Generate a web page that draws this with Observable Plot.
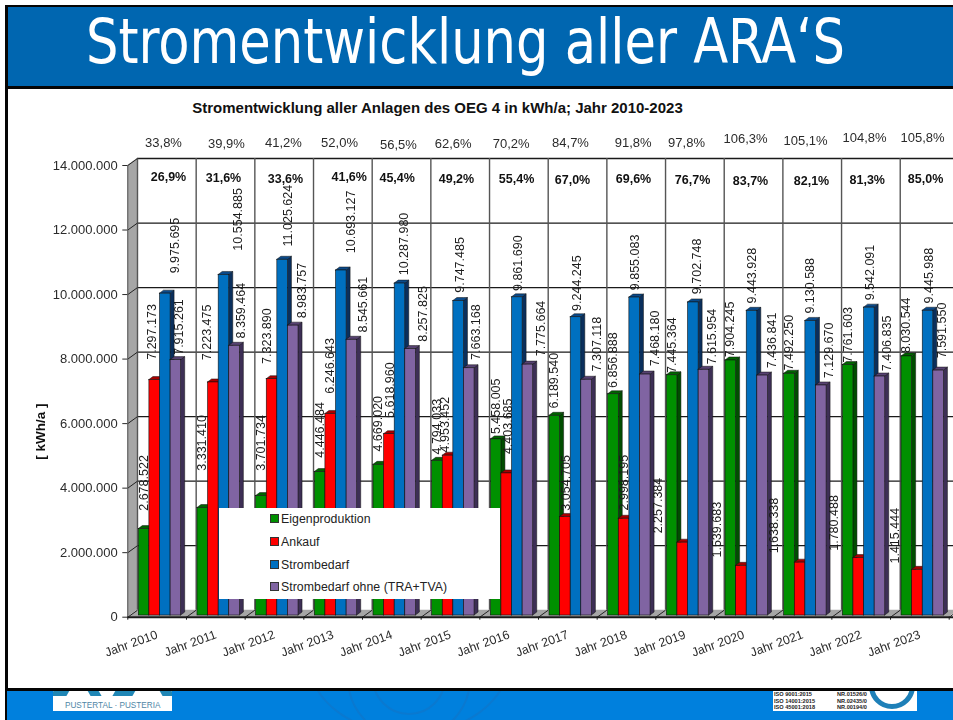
<!DOCTYPE html>
<html lang="de">
<head>
<meta charset="utf-8">
<title>Stromentwicklung aller ARA'S</title>
<script src="https://cdn.jsdelivr.net/npm/d3@7"></script>
<script src="https://cdn.jsdelivr.net/npm/@observablehq/plot@0.6"></script>
<style>
  html,body{margin:0;padding:0;background:#fff;width:953px;height:720px;overflow:hidden;font-family:"Liberation Sans",Arial,sans-serif}
  #page{position:relative;width:953px;height:720px;overflow:hidden}
  #page>*{position:absolute}
  #head{left:5px;top:5px;width:948px;height:79px;background:#0066b0;border:solid #050505;border-width:2px 0 3px 3px;box-sizing:content-box;}
  #head-text{left:86px;top:3px;font:62px "DejaVu Sans Condensed","DejaVu Sans",sans-serif;color:#fff;white-space:nowrap;transform-origin:0 0;line-height:78px}
  #leftbar{left:5px;top:87px;width:2.5px;height:604px;background:#050505}
  #foot{left:5px;top:688px;width:948px;height:32px;background:#0080dd;border-top:3px solid #050505;border-left:2.5px solid #050505;box-sizing:border-box;overflow:hidden}
  .ring{position:absolute;border-radius:50%;border:2px solid #1273c4;opacity:.55}
  #chart{left:0;top:87px;filter:blur(.3px)}
  #chart-title{left:0;width:875px;text-align:center;top:99px;font:bold 15px "Liberation Sans",Arial,sans-serif;color:#111;white-space:nowrap}
  #legend{left:219px;top:507.5px;width:281px;height:91px;background:#fff;font-size:12.3px;color:#222}
  #legend div{position:absolute;left:51px;white-space:nowrap;line-height:14px;letter-spacing:.05px}
  #legend i{display:inline-block;width:7px;height:7px;margin-right:2px;border:.5px solid #333;box-sizing:content-box;vertical-align:0}
  .logo{background:#fff;overflow:hidden;top:691px;height:20px}
  #logo-l{left:53px;width:119px;text-align:center}
  #logo-l span{position:absolute;left:12px;top:10px;font-size:8.2px;color:#4f86a6;white-space:nowrap}
  #logo-l b{position:absolute;top:-4px;height:9px;background:#1f86b5}
  #logo-r{left:773px;width:144px;font:bold 5.6px "Liberation Sans",Arial,sans-serif;color:#222;line-height:6.5px}
  #logo-r p{margin:0;position:absolute;top:0;white-space:pre}
  #seal{position:absolute;left:96px;top:-28px;width:36px;height:36px;border:5px solid #1e80b8;border-radius:50%}
</style>
</head>
<body>
<div id="page">
  <div id="chart"></div>
  <div id="head"></div>
  <div id="head-text">Stromentwicklung aller ARA‘S</div>
  <div id="leftbar"></div>
  <div id="foot">
    <span class="ring" style="left:340px;top:-75px;width:120px;height:120px"></span>
    <span class="ring" style="left:365px;top:-50px;width:70px;height:70px"></span>
    <span class="ring" style="left:300px;top:-110px;width:200px;height:150px"></span>
  </div>
  <div id="chart-title">Stromentwicklung aller Anlagen des OEG 4 in kWh/a; Jahr 2010-2023</div>
  <div id="legend"></div>
  <div class="logo" id="logo-l">
    <b style="left:0;width:16px;transform:skewX(-30deg)"></b>
    <b style="left:35px;width:11px;transform:skewX(30deg)"></b>
    <b style="left:62px;width:20px;transform:skewX(-30deg)"></b>
    <b style="left:107px;width:12px;transform:skewX(30deg)"></b>
    <span>PUSTERTAL · PUSTERIA</span>
  </div>
  <div class="logo" id="logo-r">
    <p style="left:1px">ISO 9001:2015
ISO 14001:2015
ISO 45001:2018</p>
    <p style="left:64px">NR.01526/0
NR.02435/0
NR.00194/0</p>
    <div id="seal"></div>
  </div>
</div>
<script>
// ---------- values ----------
const years = ["Jahr 2010","Jahr 2011","Jahr 2012","Jahr 2013","Jahr 2014","Jahr 2015","Jahr 2016","Jahr 2017","Jahr 2018","Jahr 2019","Jahr 2020","Jahr 2021","Jahr 2022","Jahr 2023"];
const eigenproduktion = [2678522,3331410,3701734,4446484,4669020,4794033,5458005,6189540,6856888,7445364,7904245,7492250,7761603,8030544];
const ankauf = [7297173,7223475,7323890,6246643,5618960,4953452,4403685,3054705,2998195,2257384,1539683,1638338,1780488,1415444];
const strombedarf = [9975695,10554885,11025624,10693127,10287980,9747485,9861690,9244245,9855083,9702748,9443928,9130588,9542091,9445988];
const strombedarfOhne = [7915261,8359464,8983757,8545661,8257825,7663168,7775664,7307118,7468180,7615954,7436841,7129670,7406835,7591550];
const percentTop = ["33,8%","39,9%","41,2%","52,0%","56,5%","62,6%","70,2%","84,7%","91,8%","97,8%","106,3%","105,1%","104,8%","105,8%"];
const percentBold = ["26,9%","31,6%","33,6%","41,6%","45,4%","49,2%","55,4%","67,0%","69,6%","76,7%","83,7%","82,1%","81,3%","85,0%"];
const yTicks = [0,2000000,4000000,6000000,8000000,10000000,12000000,14000000];
const seriesNames = ["Eigenproduktion","Ankauf","Strombedarf","Strombedarf ohne (TRA+TVA)"];
const seriesValues = [eigenproduktion,ankauf,strombedarf,strombedarfOhne];

// ---------- styling ----------
const faceColor = ["#009000","#ff0000","#0070c0","#8064a2"];
const sideColor = ["#004d00","#7a0000","#0a2f5c","#3d2f55"];
const topColor  = ["#006400","#a80000","#0a4a8a","#574272"];

const STEP = 821.4 / 14;              // pixels per year band
const PXV = 14000000 / 451.7;         // value units per pixel
const px = p => p / STEP;
const wallX = px(9.7), wallY = 7 * PXV;
const barStart = px(11), barW = px(10.6), sideX = px(4), sideY = 3 * PXV;
const base = 1.7 * PXV;               // the bars stand slightly behind the axis line

// label placement: horizontal offset in a band, and gap above the bar (hand-placed in the original)
const labelShift = [
  Array(14).fill(15.7),
  [23.7,21,22.3,25.7,28,24.3,27.7,27,27.3,1.7,2,1.3,1.7,4],
  [47.4,51.7,42.6,46.7,41.3,38.6,38.4,38,37.6,41.4,37.7,37.3,37.7,38.3],
  [50.7,54.7,57,59.4,60.7,55.3,60.7,58,58.3,56.4,57.7,55.6,55.4,51.7]
];
const labelGap = [
  [20,39,27,16,15,8,7,9,8,4,5,5,4,5],
  [22,24,17,22,18,5,21,8,10,11,10,11,9,8],
  [22,26,15,19,10,10,8,8,9,10,9,9,9,9],
  [7,9,9,9,9,10,10,10,10,7,9,9,7,14]
];
const topPlace = [[35.7,142],[40,143],[38.3,142.3],[35.7,142],[36,144],[32,143],[31.4,143],[32,142],[36,142],[30.7,142],[31,138],[32.3,140],[32.7,137.7],[32,137.7]];
const boldPlace = [[40.7,176.7],[37,177],[40.3,178.7],[45.4,176],[34.7,177],[35.3,178.7],[36.7,178.7],[34,179.7],[36.3,178.7],[36.7,179.7],[36,180],[38.3,180],[35.4,179.7],[35,178.7]];
const pctY = y => (616.7 - y) * PXV;

const de = d3.formatLocale({decimal:",",thousands:".",grouping:[3],currency:["","€"]}).format(",d");

// ---------- derived tables ----------
const bars = seriesValues.flatMap((vals, s) => vals.map((v, i) => ({
  s, i, value: v, name: seriesNames[s], year: years[i],
  x1: i + barStart + s * barW, x2: i + barStart + (s + 1) * barW
})));
const sideFaces = s => bars.filter(b => b.s === s).flatMap(b => [
  {id:b.i, x:b.x2, y1:base, y2:b.value + base},
  {id:b.i, x:b.x2 + sideX, y1:base + sideY, y2:b.value + base + sideY}
]);
const topFaces = s => bars.filter(b => b.s === s).flatMap(b => {
  const v = b.value + base;
  return [
    {id:b.i, x:b.x1, y1:v, y2:v},
    {id:b.i, x:b.x1 + sideX, y1:v, y2:v + sideY},
    {id:b.i, x:b.x2, y1:v, y2:v + sideY},
    {id:b.i, x:b.x2 + sideX, y1:v + sideY, y2:v + sideY}
  ];
});
const bands = d3.range(15);
const yearIdx = years.map((_, i) => i);

const barMarks = seriesNames.flatMap((_, s) => [
  Plot.areaY(sideFaces(s), {x:"x", y1:"y1", y2:"y2", z:"id", fill:sideColor[s], stroke:"#111", strokeWidth:.5}),
  Plot.areaY(topFaces(s),  {x:"x", y1:"y1", y2:"y2", z:"id", fill:topColor[s],  stroke:"#111", strokeWidth:.5}),
  Plot.rect(bars.filter(b => b.s === s), {x1:"x1", x2:"x2", y1:() => base, y2:b => b.value + base, fill:faceColor[s], stroke:"#111", strokeWidth:.6})
]);

const chart = Plot.plot({
  width: 953, height: 601,
  marginLeft: 127.3, marginRight: 4.3, marginTop: 78, marginBottom: 71.3,
  x: {domain:[0,14], axis:null},
  y: {domain:[0,14000000], axis:null},
  style: {fontFamily:'"Liberation Sans",Arial,sans-serif', background:"transparent"},
  marks: [
    // side wall and floor
    Plot.areaY([{x:0,y1:0,y2:14000000},{x:wallX,y1:wallY,y2:14000000+wallY}], {x:"x", y1:"y1", y2:"y2", fill:"#a6a6a6"}),
    Plot.areaY([{x:0,y1:0,y2:0},{x:wallX,y1:0,y2:wallY},{x:14,y1:0,y2:wallY},{x:14+wallX,y1:wallY,y2:wallY}], {x:"x", y1:"y1", y2:"y2", fill:"#a6a6a6"}),
    // back wall grid
    Plot.ruleY(yTicks.slice(1), {y:d => d + wallY, x1:wallX, x2:14.2, stroke:"#1a1a1a", strokeWidth:1.3}),
    Plot.ruleX(bands, {x:d => d + wallX, y1:wallY, y2:14000000 + wallY, stroke:"#555", strokeWidth:1.4}),
    Plot.link(yTicks, {x1:() => 0, y1:d => d, x2:() => wallX, y2:d => d + wallY, stroke:"#222", strokeWidth:1}),
    Plot.link(bands.slice(1), {x1:d => d, y1:() => 0, x2:d => d + wallX, y2:() => wallY, stroke:"#222", strokeWidth:1}),
    ...barMarks,
    // axes
    Plot.ruleX([0], {y1:0, y2:14000000, stroke:"#555", strokeWidth:1}),
    Plot.ruleY([0], {x1:0, x2:14.2, stroke:"#1a1a1a", strokeWidth:2}),
    Plot.ruleX(bands, {x:d => d, y1:0, y2:-3 * PXV, stroke:"#1a1a1a", strokeWidth:1}),
    Plot.axisY({ticks:yTicks, tickFormat:de, tickSize:5, tickPadding:5, fontSize:13, color:"#2b2b2b", label:null}),
    Plot.text(yearIdx, {x:d => d + 0.5, y:() => 0, text:d => years[d], rotate:-20, textAnchor:"end", dy:17, fontSize:12.4, fill:"#2b2b2b"}),
    Plot.text([5750000], {x:() => px(40 - 127.3), y:d => d, text:() => "[ kWh/a ]", rotate:-90, fontSize:13.5, fontWeight:"bold", fill:"#111"}),
    // value labels
    Plot.text(bars, {x:b => b.i + px(labelShift[b.s][b.i]), y:b => b.value + labelGap[b.s][b.i] * PXV,
      text:b => de(b.value), rotate:-90, textAnchor:"start", fontSize:12.5, fill:"#1c1c1c"}),
    // percent rows
    Plot.text(yearIdx, {x:d => d + px(topPlace[d][0]), y:d => pctY(topPlace[d][1]), text:d => percentTop[d], fontSize:13, fill:"#2b2b2b"}),
    Plot.text(yearIdx, {x:d => d + px(boldPlace[d][0]), y:d => pctY(boldPlace[d][1]), text:d => percentBold[d], fontSize:12.5, fontWeight:"bold", fill:"#111"})
  ]
});
document.getElementById("chart").append(chart);

// legend
const legend = document.getElementById("legend");
seriesNames.forEach((n, s) => {
  const row = document.createElement("div");
  row.style.top = (4.5 + s * 22.8) + "px";
  row.innerHTML = `<i style="background:${faceColor[s]}"></i>${n}`;
  legend.append(row);
});
// fit the banner title to the reference's width
const ht = document.getElementById("head-text");
ht.style.transform = `scaleX(${759 / ht.getBoundingClientRect().width})`;
</script>
</body>
</html>
